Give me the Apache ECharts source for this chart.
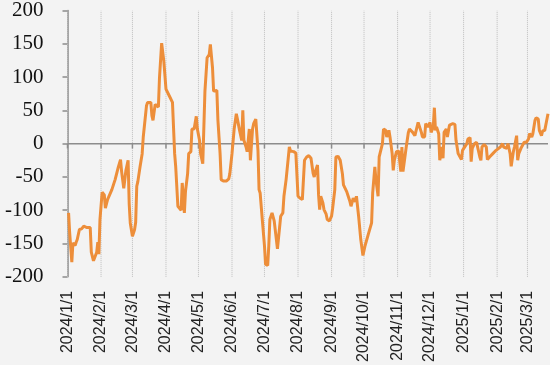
<!DOCTYPE html>
<html><head><meta charset="utf-8">
<script src="https://cdn.jsdelivr.net/npm/echarts@6/dist/echarts.min.js"></script>
<style>html,body{margin:0;padding:0;background:#f3f3f3}#c{width:550px;height:365px}</style>
</head><body><div id="c"></div>
<script>
const dates = [
'2024-01-02','2024-01-03','2024-01-04','2024-01-05','2024-01-06','2024-01-08','2024-01-09','2024-01-10','2024-01-12','2024-01-14',
'2024-01-16','2024-01-17','2024-01-19','2024-01-20','2024-01-22','2024-01-23','2024-01-25','2024-01-26','2024-01-28','2024-01-29',
'2024-01-30','2024-01-31','2024-02-02','2024-02-04','2024-02-05','2024-02-07','2024-02-11','2024-02-14','2024-02-17','2024-02-19',
'2024-02-20','2024-02-22','2024-02-23','2024-02-24','2024-02-26','2024-02-27','2024-02-28','2024-03-01','2024-03-03','2024-03-04',
'2024-03-05','2024-03-06','2024-03-08','2024-03-10','2024-03-11','2024-03-12','2024-03-14','2024-03-15','2024-03-18','2024-03-19',
'2024-03-20','2024-03-22','2024-03-23','2024-03-25','2024-03-26','2024-03-28','2024-03-30','2024-04-01','2024-04-04','2024-04-07',
'2024-04-09','2024-04-10','2024-04-12','2024-04-13','2024-04-15','2024-04-16','2024-04-18','2024-04-19','2024-04-21','2024-04-22',
'2024-04-24','2024-04-25','2024-04-27','2024-04-29','2024-04-30','2024-05-02','2024-05-03','2024-05-05','2024-05-07','2024-05-09',
'2024-05-11','2024-05-12','2024-05-14','2024-05-15','2024-05-18','2024-05-19','2024-05-21','2024-05-22','2024-05-24','2024-05-27',
'2024-05-29','2024-05-30','2024-06-01','2024-06-03','2024-06-05','2024-06-06','2024-06-08','2024-06-10','2024-06-11','2024-06-12',
'2024-06-14','2024-06-15','2024-06-17','2024-06-18','2024-06-20','2024-06-21','2024-06-23','2024-06-24','2024-06-25','2024-06-26',
'2024-06-27','2024-06-29','2024-07-01','2024-07-02','2024-07-04','2024-07-05','2024-07-06','2024-07-08','2024-07-10','2024-07-11',
'2024-07-13','2024-07-14','2024-07-16','2024-07-18','2024-07-19','2024-07-21','2024-07-22','2024-07-24','2024-07-25','2024-07-28',
'2024-07-30','2024-08-01','2024-08-03','2024-08-05','2024-08-07','2024-08-09','2024-08-11','2024-08-13','2024-08-15','2024-08-16',
'2024-08-17','2024-08-19','2024-08-20','2024-08-21','2024-08-22','2024-08-24','2024-08-25','2024-08-27','2024-08-28','2024-08-30',
'2024-09-01','2024-09-02','2024-09-04','2024-09-05','2024-09-07','2024-09-09','2024-09-11','2024-09-12','2024-09-15','2024-09-17',
'2024-09-18','2024-09-19','2024-09-21','2024-09-23','2024-09-24','2024-09-25','2024-09-26','2024-09-28','2024-09-30','2024-10-02',
'2024-10-05','2024-10-08','2024-10-09','2024-10-11','2024-10-12','2024-10-14','2024-10-15','2024-10-16','2024-10-18','2024-10-19',
'2024-10-21','2024-10-22','2024-10-24','2024-10-25','2024-10-27','2024-10-28','2024-10-29','2024-10-31','2024-11-02','2024-11-04',
'2024-11-05','2024-11-06','2024-11-07','2024-11-09','2024-11-11','2024-11-12','2024-11-15','2024-11-17','2024-11-18','2024-11-20',
'2024-11-21','2024-11-23','2024-11-24','2024-11-26','2024-11-27','2024-11-29','2024-12-01','2024-12-02','2024-12-04','2024-12-05',
'2024-12-06','2024-12-07','2024-12-09','2024-12-10','2024-12-12','2024-12-13','2024-12-14','2024-12-16','2024-12-17','2024-12-19',
'2024-12-22','2024-12-24','2024-12-25','2024-12-27','2024-12-28','2024-12-30','2024-12-31','2025-01-04','2025-01-05','2025-01-07',
'2025-01-08','2025-01-09','2025-01-11','2025-01-13','2025-01-14','2025-01-16','2025-01-17','2025-01-18','2025-01-20','2025-01-22',
'2025-01-23','2025-01-25','2025-01-28','2025-01-31','2025-02-04','2025-02-06','2025-02-07','2025-02-08','2025-02-10','2025-02-11',
'2025-02-13','2025-02-14','2025-02-16','2025-02-17','2025-02-19','2025-02-20','2025-02-21','2025-02-23','2025-02-24','2025-02-26',
'2025-02-27','2025-02-28','2025-03-02','2025-03-03','2025-03-05','2025-03-06','2025-03-08','2025-03-09','2025-03-11','2025-03-12',
'2025-03-14','2025-03-15','2025-03-17','2025-03-18','2025-03-20'
];
const values = [
-104,-134,-136,-178,-149,-153,-148,-144,-129,-128,
-124,-121,-126,-125,-126,-163,-176,-176,-163,-148,
-166,-114,-73,-77,-97,-84,-69,-54,-35,-24,
-42,-67,-64,-40,-25,-90,-119,-139,-129,-118,
-64,-57,-35,-15,10,10,57,62,62,42,
35,59,59,55,99,151,124,82,72,62,
-15,-35,-94,-97,-100,-59,-104,-72,-45,-15,
-12,22,22,41,22,5,-15,-30,79,129,
134,149,114,79,80,35,-15,-54,-56,-56,
-53,-45,-15,22,45,37,20,5,50,5,
-5,-12,22,-25,22,30,37,35,-10,-69,
-74,-114,-153,-181,-183,-153,-114,-104,-116,-116,
-158,-158,-109,-104,-79,-54,-52,-5,-11,-12,
-14,-79,-82,-84,-25,-20,-18,-22,-45,-50,
-42,-32,-77,-99,-79,-89,-99,-106,-114,-116,
-109,-97,-69,-20,-19,-25,-45,-62,-72,-82,
-87,-94,-82,-87,-79,-77,-109,-144,-168,-153,
-136,-119,-74,-35,-54,-79,-20,-17,0,22,
20,10,20,10,-15,-40,-25,-12,-11,-42,
-5,-42,-45,-5,17,22,17,12,10,32,
32,17,10,10,30,25,32,17,25,54,
20,25,15,-25,-5,-22,17,22,10,28,
30,29,5,-15,-17,-24,-10,0,7,9,
-27,-7,0,2,0,-20,-25,-5,-1,-5,
-24,-20,-15,-10,-5,0,-5,-2,-7,0,
-15,-34,-12,-5,12,-25,-15,-7,-5,2,
5,2,7,15,10,15,35,39,37,20,
12,19,20,22,45
];
const yMin = -200, yMax = 200, yStep = 50;
const monthTicks = ['2024-01-01','2024-02-01','2024-03-01','2024-04-01','2024-05-01','2024-06-01','2024-07-01',
'2024-08-01','2024-09-01','2024-10-01','2024-11-01','2024-12-01','2025-01-01','2025-02-01','2025-03-01'];
const xStart = '2024-01-01', xEnd = '2025-03-20';

function ts(s){const p=s.split('-').map(Number);return new Date(p[0],p[1]-1,p[2]).getTime();}
const monthTs = monthTicks.map(ts);
const seriesData = dates.map((d,i)=>[ts(d), values[i]]);
function fmt(v){const d=new Date(v);return d.getFullYear()+'/'+(d.getMonth()+1)+'/'+d.getDate();}

const axisGray = '#8c8c8c';
const gridTop = 8.3, gridBottom = 87.3, chartH = 365;
const tickUnits = 5 * (yMax - yMin) / (chartH - gridTop - gridBottom);

const guideSeries = [];
monthTs.forEach(function(t){
  guideSeries.push({type:'line', z:5, silent:true, showSymbol:false, symbol:'none', data:[[t,yMin],[t,yMax]],
    lineStyle:{type:'dotted', color:'#bdbdbd', width:1}});
  guideSeries.push({type:'line', z:6, silent:true, showSymbol:false, symbol:'none', data:[[t,0],[t,-tickUnits]],
    lineStyle:{type:'solid', color:axisGray, width:1.5}});
});
guideSeries.push({type:'line', z:6, silent:true, showSymbol:false, symbol:'none', data:[[ts(xStart),0],[ts(xEnd),0]],
  lineStyle:{type:'solid', color:axisGray, width:1.5}});

const chart = echarts.init(document.getElementById('c'), null, {renderer:'canvas'});
chart.setOption({
  animation:false,
  backgroundColor:'#f3f3f3',
  grid:{left:67.5, right:2, top:gridTop, bottom:gridBottom, containLabel:false},
  xAxis:{
    type:'value', position:'bottom', min:ts(xStart), max:ts(xEnd),
    axisLine:{show:false, onZero:false},
    axisTick:{show:false, customValues:monthTs},
    axisLabel:{customValues:monthTs, rotate:90, margin:14, fontFamily:'Liberation Sans', fontSize:16, color:'#222', formatter:fmt},
    splitLine:{show:false}
  },
  yAxis:{
    type:'value', min:yMin, max:yMax, interval:yStep,
    axisLine:{show:true, onZero:false, lineStyle:{color:axisGray, width:1.5}},
    axisTick:{show:true, length:5, lineStyle:{color:axisGray, width:1.5}},
    axisLabel:{margin:24, fontFamily:'Liberation Serif', fontSize:21, color:'#111', showMinLabel:true, showMaxLabel:true},
    splitLine:{show:false}
  },
  series: guideSeries.concat([{
    type:'line', z:10, data:seriesData, showSymbol:false, symbol:'none',
    lineStyle:{color:'#ED8E3A', width:3}, itemStyle:{color:'#ED8E3A'}
  }])
});
</script></body></html>
